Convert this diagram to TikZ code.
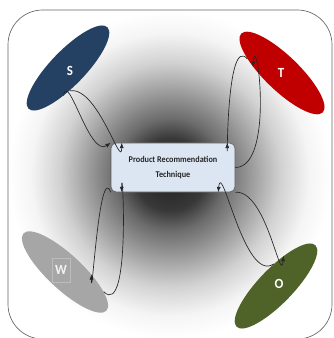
\documentclass[tikz,border=0pt]{standalone}
\usepackage{fontspec}
\usepackage{xcolor}
\usepackage{tikz}
\usetikzlibrary{shapes.geometric,arrows.meta}

\newfontfamily\smartfont[FakeStretch=0.93]{Carlito}
\definecolor{sblue}{RGB}{36,64,98}
\definecolor{tred}{RGB}{192,0,0}
\definecolor{wgray}{RGB}{166,166,166}
\definecolor{ogreen}{RGB}{79,98,40}
\definecolor{boxfill}{RGB}{220,230,242}
\pgfdeclareradialshading{glow}{\pgfpoint{0bp}{0bp}}{color(0bp)=(black!88); color(5.5bp)=(black!78); color(8.5bp)=(black!58); color(17bp)=(black!18); color(21.5bp)=(black!4); color(25bp)=(white); color(50bp)=(white)}

\tikzset{
  swot/.style={ellipse, minimum width=85pt, minimum height=26pt, inner sep=0pt},
  letter/.style={text=white, font=\smartfont\bfseries\fontsize{10.5}{12}\selectfont, inner sep=0.75pt},
  link/.style={-{Latex[length=4pt,width=3pt]}, line width=0.5pt, black!85},
}

\begin{document}
\begin{tikzpicture}[x=0.75pt,y=0.75pt,yscale=-1,xscale=1]
        \useasboundingbox (0,0) rectangle (334,338);
        \path [shade, shading=glow, draw=black!60, line width=0.5pt, rounded corners=26pt] (8,10) rectangle (332,339);

        \node [swot, fill=sblue, rotate=46] (s) at (68,68) {};
        \node [swot, fill=tred, rotate=-44] (t) at (282,73) {};
        \node [swot, fill=wgray, rotate=-43] (w) at (65,272) {};
        \node [swot, fill=ogreen, rotate=46] (o) at (276,286) {};

        \node [letter] (sl) at (70,71) {S};
        \node [letter] (tl) at (281,73) {T};
        \node [letter, text=white!85!wgray, draw=white!25!wgray, line width=0.4pt, minimum width=13.5pt, minimum height=18pt] (wl) at (61,270) {W};
        \node [letter] (ol) at (279,284) {O};

        \node [draw=black!65, fill=boxfill, rounded corners=4pt, minimum width=93pt, minimum height=36.75pt, align=center, font=\smartfont\bfseries\fontsize{6.6}{11.25}\selectfont, text=black!85] (prt) at (173,167.5) {Product Recommendation\\Technique};

        \draw [link] (s.-132) to[out=-10, in=90] ([xshift=8.25pt]prt.north west);
        \draw [link] (s.-145) to[out=-80, in=145] (prt.north west);
        \draw [link] (t.-158) to[out=-130, in=90] ([xshift=-6pt]prt.north east);
        \draw [link] (prt.east) to[out=0, in=-85] (t.-148);
        \draw [link] (prt.south west) to[out=-110, in=90] (w.38);
        \draw [link] (w.16) to[out=45, in=-90] ([xshift=8.25pt]prt.south west);
        \draw [link] (prt.south east) to[out=-5, in=95] (o.30);
        \draw [link] (o.50) to[out=145, in=-85] ([xshift=-12.75pt]prt.south east);
\end{tikzpicture}
\end{document}
